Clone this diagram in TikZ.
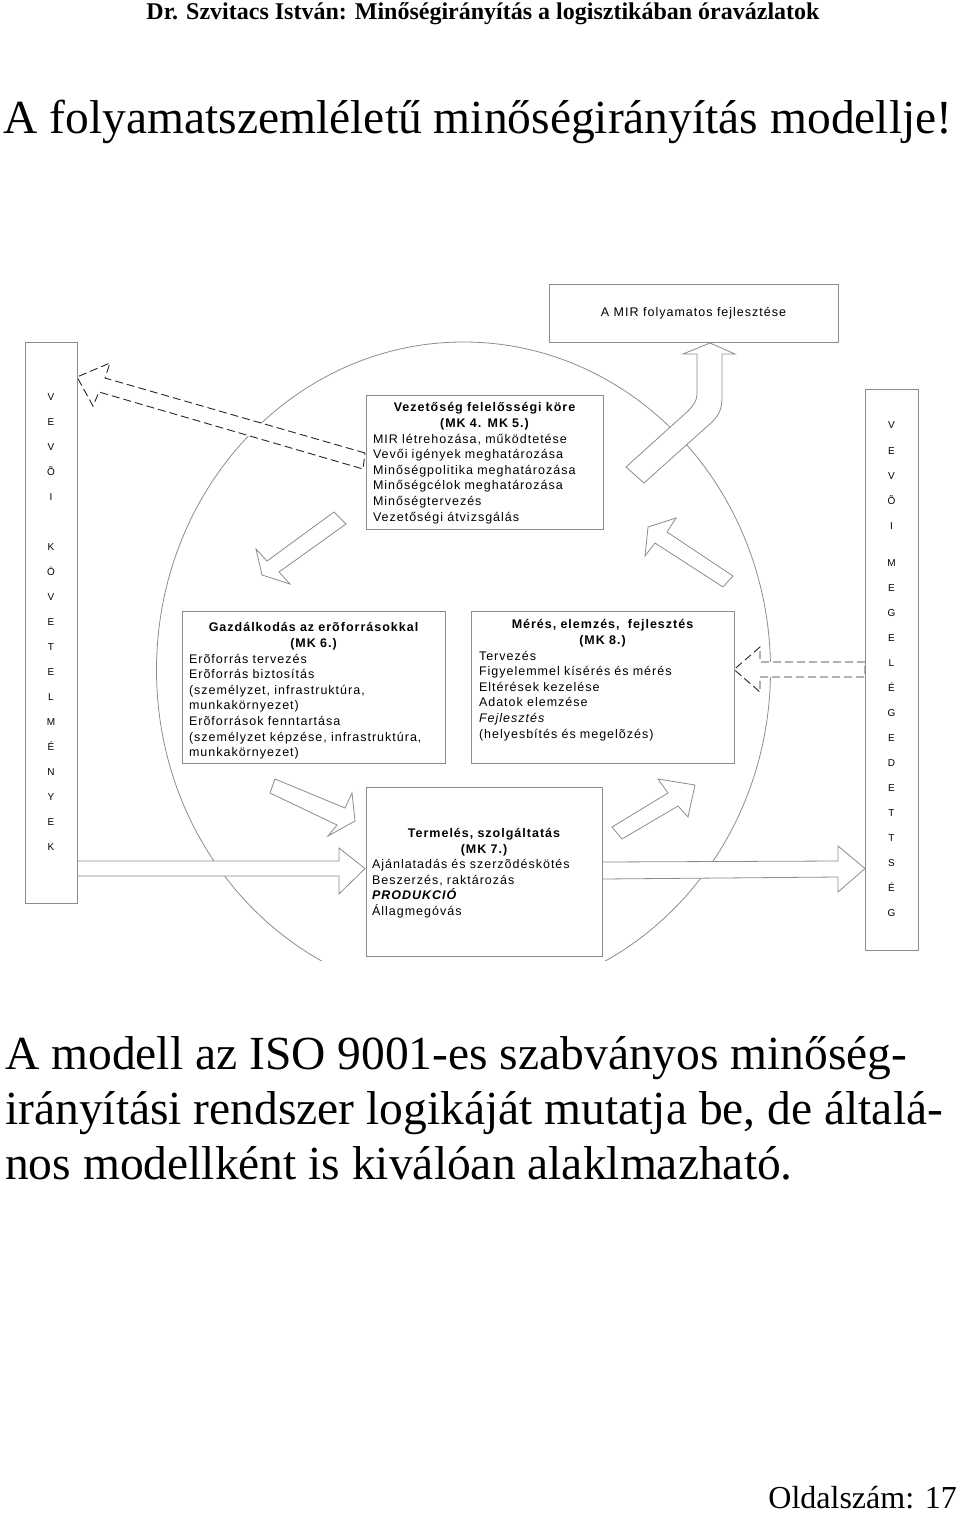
\documentclass[tikz,border=0pt]{standalone}
\usepackage{fontspec}
\setmainfont{Liberation Serif}
\newfontfamily\abrabetu[LetterSpace=8]{Liberation Sans}
\usetikzlibrary{positioning}
\definecolor{keret}{gray}{0.55}
\definecolor{szaggat}{gray}{0.15}
\tikzset{
  doboz/.style={draw=keret,line width=0.9pt,fill=white,inner sep=0pt},
  szoveg/.style={inner sep=0pt,align=left,font=\abrabetu\fontsize{12.5}{15.6}\selectfont},
  betu/.style={inner sep=0pt,text height=7.2pt,text depth=0pt,font=\abrabetu\fontsize{10}{12}\selectfont},
  blokk/.style={draw=keret,line width=0.8pt,fill=white},
  szagg/.style={draw=szaggat,line width=0.9pt,fill=white,dash pattern=on 8pt off 4pt},
  cim/.style={inner sep=0pt,font=\fontsize{47.5}{55}\selectfont}
}
\begin{document}
\begin{tikzpicture}[x=1pt,y=-1pt]
  \useasboundingbox (0,0) rectangle (960,1520);
  % fejlec es cim
  \node[inner sep=0pt,font=\bfseries\fontsize{24}{26}\selectfont] (fejlec) at (483,14) {Dr. Szvitacs István: Minőségirányítás a logisztikában óravázlatok};
  \node[cim] (cim) at (478,122) {A folyamatszemléletű minőségirányítás modellje!};
  % a kor
  \begin{scope}
    \clip (0,300) rectangle (960,960);
    \draw[draw=keret,line width=0.8pt] (463.5,670) ellipse [x radius=307, y radius=328];
  \end{scope}
  % nyilak
  \draw[szagg] (365,453) -- (105,378) -- (110,363) -- (77,377) -- (93,406) -- (99,392) -- (363,469) -- cycle;
  \draw[szagg] (865,662) -- (760,662) -- (760,647) -- (734,669.5) -- (760,692) -- (760,677) -- (865,677) -- cycle;
  \draw[blokk] (77,861) -- (339,861) -- (339,848) -- (365,868.5) -- (339,894) -- (339,876) -- (77,876) -- cycle;
  \draw[blokk] (602,862) -- (838,861) -- (838,846) -- (865,868.5) -- (838,892) -- (838,877) -- (602,879) -- cycle;
  \draw[blokk] (710,343) -- (735,354) -- (722,354) -- (722,398) .. controls (722,410) and (718,416) .. (712,422) -- (644,483) -- (626,467) -- (688,411) .. controls (694,405) and (697,400) .. (697,394) -- (697,354) -- (683,354) -- cycle;
  \draw[blokk] (334,512) -- (346,524) -- (279,572) -- (290,584) -- (262,575) -- (256,549) -- (267,561) -- cycle;
  \draw[blokk] (275,779) -- (345,808) -- (352,793) -- (355,821) -- (328,836) -- (337,825) -- (270,793) -- cycle;
  \draw[blokk] (622,839) -- (612,827) -- (668,793) -- (658,779) -- (695,785) -- (688,817) -- (678,806) -- cycle;
  \draw[blokk] (733,576) -- (667,532) -- (676,518) -- (648,527) -- (645,556) -- (655,543) -- (723,587) -- cycle;
  % oldalso dobozok
  \node[doboz,minimum width=52,minimum height=561] (vevoi) at (51,622.5) {};
  \node[doboz,minimum width=53,minimum height=561] (elegedett) at (891.5,669.5) {};
  \foreach \b [count=\i] in {V,E,V,Õ,I}
    \node[betu] (bf\i) at (51,{372+25*\i}) {\b};
  \foreach \b [count=\i] in {K,Ö,V,E,T,E,L,M,É,N,Y,E,K}
    \node[betu] (ba\i) at (51,{522+25*\i}) {\b};
  \foreach \b [count=\i] in {V,E,V,Õ,I}
    \node[betu] (jf\i) at (891.5,{400+25.25*\i}) {\b};
  \foreach \b [count=\i] in {M,E,G,E,L,É,G,E,D,E,T,T,S,É,G}
    \node[betu] (ja\i) at (891.5,{538+25*\i}) {\b};
  % folyamat dobozok
  \node[doboz,minimum width=289,minimum height=58,font=\abrabetu\fontsize{12.5}{15.5}\selectfont] (mir) at (693.5,313) {A MIR folyamatos fejlesztése};
  \node[doboz,minimum width=237,minimum height=134] (vez) at (484.5,462) {};
  \node[szoveg,text width=223,below=8pt of vez.north] (vezt) {%
    {\centering\bfseries Vezetőség felelősségi köre\\(MK 4. MK 5.)\par}
    MIR létrehozása, működtetése\\
    Vevői igények meghatározása\\
    Minőségpolitika meghatározása\\
    Minőségcélok meghatározása\\
    Minőségtervezés\\
    Vezetőségi átvizsgálás};
  \node[doboz,minimum width=263,minimum height=152] (gazd) at (313.5,687) {};
  \node[szoveg,text width=249,below=12pt of gazd.north] (gazdt) {%
    {\centering\bfseries Gazdálkodás az erõforrásokkal\\(MK 6.)\par}
    Erõforrás tervezés\\
    Erõforrás biztosítás\\
    (személyzet, infrastruktúra,\\
    munkakörnyezet)\\
    Erõforrások fenntartása\\
    (személyzet képzése, infrastruktúra,\\
    munkakörnyezet)};
  \node[doboz,minimum width=263,minimum height=152] (meres) at (602.5,687) {};
  \node[szoveg,text width=247,below=9pt of meres.north] (merest) {%
    {\centering\bfseries Mérés, elemzés,\ \ fejlesztés\\(MK 8.)\par}
    Tervezés\\
    Figyelemmel kísérés és mérés\\
    Eltérések kezelése\\
    Adatok elemzése\\
    \textit{Fejlesztés}\\
    (helyesbítés és megelõzés)};
  \node[doboz,minimum width=236,minimum height=169] (term) at (484,871.5) {};
  \node[szoveg,text width=224,below=41.5pt of term.north] (termt) {%
    {\centering\bfseries Termelés, szolgáltatás\\(MK 7.)\par}
    Ajánlatadás és szerzõdéskötés\\
    Beszerzés, raktározás\\
    \textbf{\textit{PRODUKCIÓ}}\\
    Állagmegóvás};
  % also szoveg
  \node[cim,anchor=north west,align=left] (magyaraz) at (5,1036) {A modell az ISO 9001-es szabványos minőség-\\irányítási rendszer logikáját mutatja be, de általá-\\nos modellként is kiválóan alaklmazható.};
  \node[inner sep=0pt,anchor=east,font=\fontsize{32}{36}\selectfont] (oldal) at (957,1498) {Oldalszám: 17};
\end{tikzpicture}
\end{document}
